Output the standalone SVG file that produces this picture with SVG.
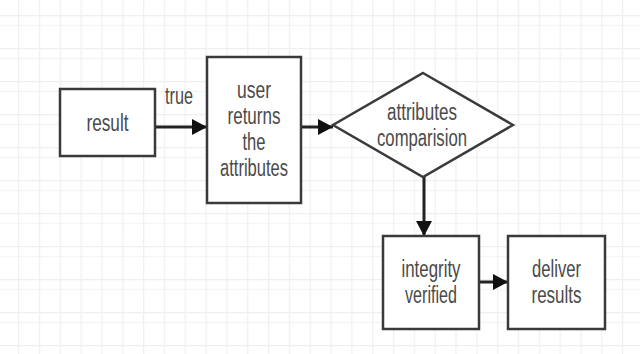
<svg xmlns="http://www.w3.org/2000/svg" width="640" height="354" viewBox="0 0 640 354">
<defs>
<pattern id="gridV" patternUnits="userSpaceOnUse" x="18" y="0" width="20.83" height="354">
<line x1="0.5" y1="0" x2="0.5" y2="354" stroke="#f0f0f0" stroke-width="1.5"/>
</pattern>
<pattern id="gridH" patternUnits="userSpaceOnUse" x="0" y="15" width="640" height="33">
<line x1="0" y1="0.5" x2="640" y2="0.5" stroke="#efefef" stroke-width="1.5"/>
<line x1="0" y1="10.5" x2="640" y2="10.5" stroke="#f5f5f5" stroke-width="1.5"/>
</pattern>
<marker id="arr" markerUnits="userSpaceOnUse" markerWidth="16" markerHeight="16" refX="15" refY="8" orient="auto" viewBox="0 0 16 16">
<path d="M0,0 L15,8 L0,16 Z" fill="#111"/>
</marker>
<style>
.box{fill:#fff;stroke:#3a3a3a;stroke-width:2.5}
.t{font-family:"Liberation Sans",Arial,sans-serif;font-size:23px;fill:#4a4a4a;text-anchor:middle}
.c{stroke:#222;stroke-width:3;fill:none}
</style>
</defs>
<rect width="640" height="354" fill="#fff"/>
<rect width="640" height="354" fill="url(#gridH)"/>
<rect width="640" height="354" fill="url(#gridV)"/>
<g id="connectors">
<line class="c" x1="155" y1="127" x2="207" y2="127" marker-end="url(#arr)"/>
<line class="c" x1="301" y1="127" x2="333" y2="127" marker-end="url(#arr)"/>
<line class="c" x1="424" y1="177" x2="424" y2="236" marker-end="url(#arr)"/>
<line class="c" x1="479" y1="282" x2="508" y2="282" marker-end="url(#arr)"/>
<text class="t" x="179" y="104" textLength="28" lengthAdjust="spacingAndGlyphs">true</text>
</g>
<g id="result">
<rect class="box" x="60" y="89" width="95" height="67"/>
<text class="t" x="107.5" y="131" textLength="42" lengthAdjust="spacingAndGlyphs">result</text>
</g>
<g id="user">
<rect class="box" x="207" y="57" width="94" height="146"/>
<text class="t" x="254" y="98" textLength="34" lengthAdjust="spacingAndGlyphs">user</text>
<text class="t" x="254" y="124" textLength="53" lengthAdjust="spacingAndGlyphs">returns</text>
<text class="t" x="254" y="150" textLength="23" lengthAdjust="spacingAndGlyphs">the</text>
<text class="t" x="254" y="176" textLength="68" lengthAdjust="spacingAndGlyphs">attributes</text>
</g>
<g id="comparison">
<polygon class="box" points="423,73 513,125 423,177 333,125"/>
<text class="t" x="422" y="120" textLength="70" lengthAdjust="spacingAndGlyphs">attributes</text>
<text class="t" x="422" y="146" textLength="90" lengthAdjust="spacingAndGlyphs">comparision</text>
</g>
<g id="integrity">
<rect class="box" x="383" y="236" width="96" height="93"/>
<text class="t" x="431" y="277" textLength="59" lengthAdjust="spacingAndGlyphs">integrity</text>
<text class="t" x="431" y="303" textLength="52" lengthAdjust="spacingAndGlyphs">verified</text>
</g>
<g id="deliver">
<rect class="box" x="508" y="236" width="97" height="93"/>
<text class="t" x="556.5" y="277" textLength="49" lengthAdjust="spacingAndGlyphs">deliver</text>
<text class="t" x="556.5" y="303" textLength="50" lengthAdjust="spacingAndGlyphs">results</text>
</g>
</svg>
